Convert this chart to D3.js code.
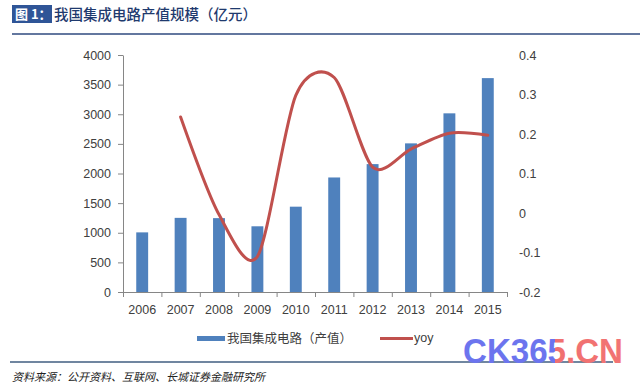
<!DOCTYPE html>
<html>
<head>
<meta charset="utf-8">
<script src="https://cdn.jsdelivr.net/npm/d3@7"></script>
<style>
  body { margin: 0; background: #fff; }
  svg { display: block; }
  .axis text { font-family: "Liberation Sans", Arial, sans-serif; font-size: 12.5px; fill: #404040; }
</style>
</head>
<body>
<svg width="640" height="386"></svg>
<script>
// Chart values
var years = ["2006", "2007", "2008", "2009", "2010", "2011", "2012", "2013", "2014", "2015"];
var output = [1006.3, 1251.3, 1246.8, 1109, 1440, 1933, 2158.5, 2508.5, 3015.4, 3609.8];
var yoy = [null, 0.243, -0.004, -0.11, 0.298, 0.343, 0.116, 0.162, 0.202, 0.197];
var leftTicks = [0, 500, 1000, 1500, 2000, 2500, 3000, 3500, 4000];
var rightTicks = [-0.2, -0.1, 0, 0.1, 0.2, 0.3, 0.4];

var svg = d3.select("svg");
var cjk = "'Noto Sans CJK SC', sans-serif";

// Plot area
var plot = {left: 123, right: 507, top: 55, bottom: 292};

var x = d3.scaleBand().domain(years).range([plot.left, plot.right]);
var xIdx = d3.scaleLinear().domain([0, years.length]).range([plot.left, plot.right]);
var yL = d3.scaleLinear().domain([0, 4000]).range([plot.bottom, plot.top]);
var yR = d3.scaleLinear().domain([-0.2, 0.4]).range([plot.bottom, plot.top]);

// Title
svg.append("rect").attr("x", 12).attr("y", 5).attr("width", 40).attr("height", 18).attr("fill", "#2F5597");
svg.append("text").attr("x", 15).attr("y", 19).text("图 1：")
    .style("font-family", cjk).style("font-size", "13px").style("font-weight", "bold").attr("fill", "#fff");
svg.append("text").attr("x", 54).attr("y", 20).text("我国集成电路产值规模（亿元）")
    .style("font-family", cjk).style("font-size", "14.5px").style("font-weight", "500").attr("fill", "#1F3A6E");
svg.append("line").attr("x1", 12).attr("x2", 640).attr("y1", 34).attr("y2", 34)
    .attr("stroke", "#2F4A7F").attr("stroke-width", 1.5);

// Bars
var barW = x.bandwidth() * 0.31;
svg.append("g").selectAll("rect")
    .data(output)
    .enter()
    .append("rect")
    .attr("x", function(d, i) { return x(years[i]) + x.bandwidth() / 2 - barW / 2; })
    .attr("y", function(d) { return yL(d); })
    .attr("width", barW)
    .attr("height", function(d) { return yL(0) - yL(d); })
    .attr("fill", "#4F81BD");

// Left axis
var leftAxis = svg.append("g").attr("class", "axis")
    .attr("transform", "translate(" + plot.left + ",0)")
    .call(d3.axisLeft(yL).tickValues(leftTicks).tickFormat(d3.format("d"))
        .tickSizeInner(5).tickSizeOuter(0).tickPadding(7));
leftAxis.selectAll("line, path").attr("stroke", "#868686");

// Right axis (labels only)
var rightAxis = svg.append("g").attr("class", "axis")
    .attr("transform", "translate(" + plot.right + ",0)")
    .call(d3.axisRight(yR).tickValues(rightTicks).tickSize(0).tickPadding(12)
        .tickFormat(function(d) { return Math.abs(d) < 1e-9 ? "0" : d.toFixed(1); }));
rightAxis.select(".domain").remove();

// X axis: labels at centers, ticks at band edges
var xAxis = svg.append("g").attr("class", "axis")
    .attr("transform", "translate(0," + plot.bottom + ")")
    .call(d3.axisBottom(x).tickSize(0).tickPadding(13));
xAxis.select(".domain").remove();
var xTicks = svg.append("g").attr("class", "axis")
    .attr("transform", "translate(0," + plot.bottom + ")")
    .call(d3.axisBottom(xIdx).tickValues(d3.range(years.length + 1)).tickFormat("").tickSizeInner(5).tickSizeOuter(0));
xTicks.selectAll("line, path").attr("stroke", "#868686");

// yoy smooth line
var line = d3.line()
    .defined(function(d) { return d != null; })
    .x(function(d, i) { return x(years[i]) + x.bandwidth() / 2; })
    .y(function(d) { return yR(d); })
    .curve(d3.curveCardinal.tension(0.15));
svg.append("path")
    .datum(yoy)
    .attr("d", line)
    .attr("fill", "none")
    .attr("stroke", "#C0504D")
    .attr("stroke-width", 3)
    .attr("stroke-linecap", "round");

// Legend
var legend = svg.append("g");
legend.append("rect").attr("x", 197).attr("y", 336).attr("width", 28).attr("height", 5).attr("fill", "#4F81BD");
legend.append("text").attr("x", 227).attr("y", 343).text("我国集成电路（产值）")
    .style("font-family", cjk).style("font-size", "12.5px").attr("fill", "#404040");
legend.append("line").attr("x1", 380).attr("x2", 413).attr("y1", 338.5).attr("y2", 338.5)
    .attr("stroke", "#C0504D").attr("stroke-width", 3);
legend.append("text").attr("x", 414).attr("y", 342).text("yoy")
    .style("font-family", "'Liberation Sans', sans-serif").style("font-size", "12.5px").attr("fill", "#404040");

// Source line + text
svg.append("line").attr("x1", 10).attr("x2", 613).attr("y1", 362).attr("y2", 362)
    .attr("stroke", "#7086A0").attr("stroke-width", 2);
svg.append("text").attr("x", 12).attr("y", 381).text("资料来源：公开资料、互联网、长城证券金融研究所")
    .style("font-family", cjk).style("font-size", "11px").style("font-style", "italic").attr("fill", "#222");

// Watermark: one text, two colours through a hard-stop gradient
var grad = svg.append("defs").append("linearGradient").attr("id", "wmGrad")
    .attr("gradientUnits", "userSpaceOnUse").attr("x1", 463).attr("x2", 623).attr("y1", 0).attr("y2", 0);
var split = (555 - 463) / 160;
grad.append("stop").attr("offset", 0).attr("stop-color", "#6C74EE");
grad.append("stop").attr("offset", split).attr("stop-color", "#6C74EE");
grad.append("stop").attr("offset", split).attr("stop-color", "#F07070");
grad.append("stop").attr("offset", 1).attr("stop-color", "#F27474");
svg.append("text").attr("x", 463).attr("y", 363).text("CK365.CN")
    .style("font-family", "'Liberation Sans Narrow', 'Liberation Sans', sans-serif")
    .style("font-size", "35px").style("font-weight", "bold")
    .attr("textLength", 160).attr("lengthAdjust", "spacingAndGlyphs")
    .attr("fill", "url(#wmGrad)");
</script>
</body>
</html>
